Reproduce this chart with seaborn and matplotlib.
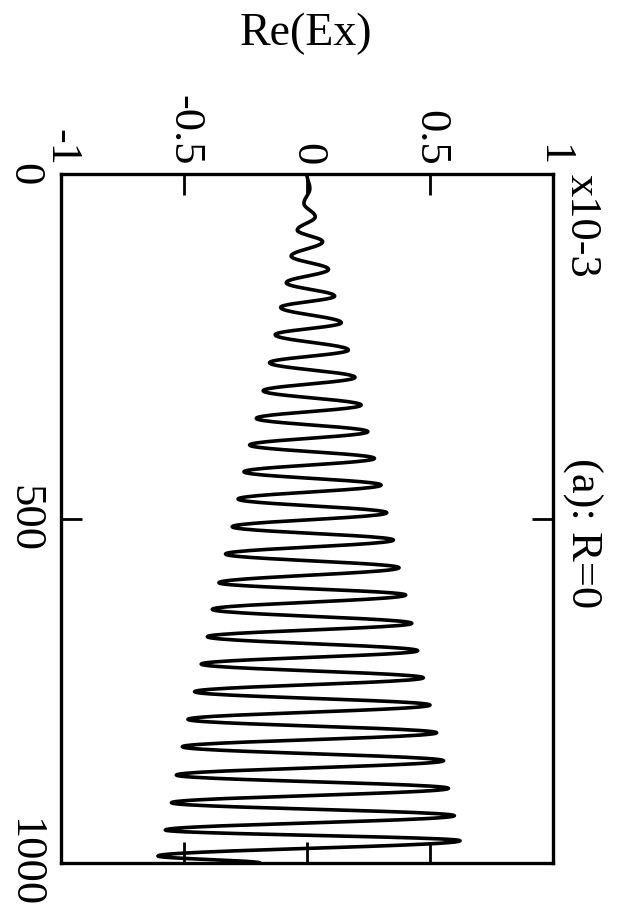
import numpy as np
import pandas as pd
import matplotlib
matplotlib.use("Agg")
import matplotlib.pyplot as plt
import seaborn as sns

# extrema of Re(Ex) (units of 1e-3), position 0..1000
ext_pos = [0, 21, 42.6, 61.9, 81.3, 98.2, 119, 138.3, 157.7, 177.1, 193.5,
           215.8, 233.2, 255.4, 273.8, 295.1, 314.5, 335.3, 354.6, 373.9,
           393.3, 412.7, 432.1, 451.4, 471.7, 491.6, 511.9, 531.2, 551.5,
           571.4, 593.2, 611.0, 631.8, 652.1, 671.5, 691.8, 711.2, 731.1,
           751.3, 770.7, 791.5, 810.9, 831.2, 851.5, 872.3, 891.6, 912.5,
           931.3, 952.1, 967.6, 989.8, 1000]
ext_val = [0.0, 0.012, -0.012, 0.034, -0.039, 0.064, -0.064, 0.088, -0.084,
           0.113, -0.107, 0.140, -0.129, 0.169, -0.152, 0.196, -0.178, 0.221,
           -0.206, 0.248, -0.233, 0.275, -0.256, 0.302, -0.280, 0.325, -0.304,
           0.352, -0.331, 0.375, -0.358, 0.402, -0.385, 0.427, -0.405, 0.451,
           -0.430, 0.474, -0.457, 0.501, -0.484, 0.528, -0.507, 0.556, -0.531,
           0.576, -0.551, 0.600, -0.576, 0.623, -0.606, -0.19]

val_ticks = [-1, -0.5, 0, 0.5, 1]
val_labels = ["-1", "-0.5", "0", "0.5", "1"]
pos_ticks = [0, 500, 1000]
pos_labels = ["0", "500", "1000"]


# smooth the read extrema with half-cosine arcs so the wave looks like the scan
def build_curve():
    xs, ys = [], []
    t = np.linspace(0, 1, 25)
    for i in range(len(ext_pos) - 1):
        p0, p1 = ext_pos[i], ext_pos[i + 1]
        v0, v1 = ext_val[i], ext_val[i + 1]
        w = (1 - np.cos(np.pi * t)) / 2
        xs.extend(p0 + (p1 - p0) * t[:-1])
        ys.extend(v0 + (v1 - v0) * w[:-1])
    xs.append(ext_pos[-1])
    ys.append(ext_val[-1])
    return pd.DataFrame({"pos": xs, "val": ys})


sns.set_style("white")
plt.rcParams["font.family"] = ["Liberation Serif", "DejaVu Serif"]
plt.rcParams["text.color"] = "black"
plt.rcParams["xtick.color"] = "black"
plt.rcParams["ytick.color"] = "black"

df = build_curve()

fig = plt.figure(figsize=(6.24, 9.19), dpi=100)
ax = fig.add_axes([0.0978, 0.0609, 0.788, 0.7497])

# the page is rotated: position runs down, Re(Ex) runs across
sns.lineplot(data=df, x="val", y="pos", sort=False, estimator=None,
             color="black", linewidth=2.6, ax=ax)

ax.set_xlim(-1, 1)
ax.set_ylim(1000, 0)
ax.set_xlabel("")
ax.set_ylabel("")

ax.set_xticks(val_ticks)
ax.set_xticklabels(val_labels, rotation=-90, fontsize=32)
ax.set_yticks(pos_ticks)
ax.set_yticklabels(pos_labels, rotation=-90, fontsize=32, va="center")

ax.tick_params(axis="x", top=True, bottom=True, labeltop=True, labelbottom=False,
               direction="in", length=15, width=2, pad=6)
ax.tick_params(axis="y", left=True, right=True, direction="in",
               length=15, width=2, pad=12)

for s in ax.spines.values():
    s.set_linewidth(2.4)
    s.set_color("black")
ax.grid(False)

ax.text(1 + 9 / 492, 1.0, "x10-3", rotation=-90, transform=ax.transAxes,
        ha="left", va="top", fontsize=32)
ax.text(1 + 9 / 492, 0.479, "(a): R=0", rotation=-90, transform=ax.transAxes,
        ha="left", va="center", fontsize=32)
fig.text(306 / 624, 1 - 45 / 919, "Re(Ex)", ha="center", va="baseline",
         fontsize=33)

plt.savefig("out.png", dpi=100)
